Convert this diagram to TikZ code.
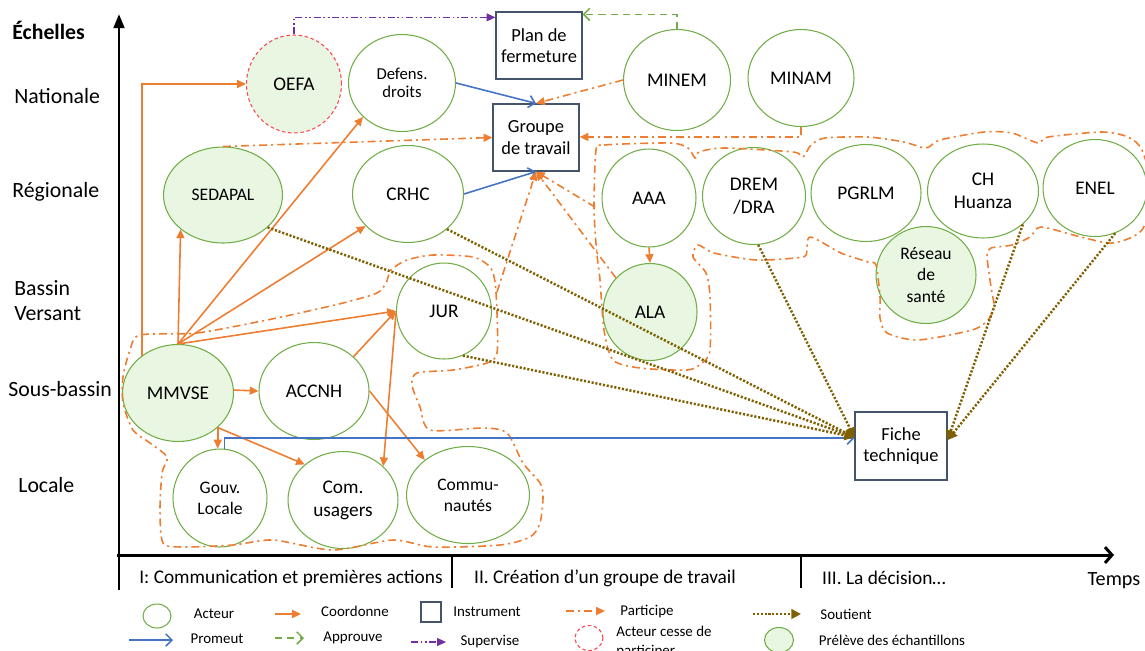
\documentclass[tikz,border=0pt]{standalone}
\usepackage{fontspec}
\setmainfont{Carlito}
\usetikzlibrary{shapes.geometric, arrows.meta}

\definecolor{vertActeur}{RGB}{112,173,71}
\definecolor{vertClair}{RGB}{233,246,226}
\definecolor{orangeC}{RGB}{237,125,49}
\definecolor{bleuP}{RGB}{68,114,196}
\definecolor{violetS}{RGB}{112,48,160}
\definecolor{oliveS}{RGB}{127,96,0}
\definecolor{rougeO}{RGB}{250,70,80}
\definecolor{ardoise}{RGB}{68,84,106}

\begin{document}
\begin{tikzpicture}[x=0.02cm, y=-0.02cm,
    acteur/.style={ellipse, draw=vertActeur, line width=0.6pt, inner sep=0pt, align=center,
        minimum width=2.2cm, minimum height=1.94cm, font=\fontsize{11}{13}\selectfont},
    preleve/.style={acteur, fill=vertClair},
    cesse/.style={draw=rougeO, dash pattern=on 2pt off 1.5pt},
    petit/.style={font=\fontsize{10}{12}\selectfont},
    instrument/.style={draw=ardoise, line width=0.7pt, inner sep=0pt, align=center,
        minimum width=1.72cm, minimum height=1.34cm, font=\fontsize{10.5}{12.3}\selectfont},
    echelle/.style={anchor=west, inner sep=0pt, align=left, font=\fontsize{12.4}{14.2}\selectfont},
    phase/.style={inner sep=0pt, font=\fontsize{11}{13}\selectfont},
    legende/.style={inner sep=0pt, align=left, font=\fontsize{8.5}{10.5}\selectfont},
    axe/.style={line width=1.7pt},
    coordonne/.style={draw=orangeC, line width=0.9pt, -{Triangle[length=5pt,width=4.5pt]}},
    promeut/.style={draw=bleuP, line width=0.9pt, -{Straight Barb[length=3.5pt,width=7pt]}},
    approuve/.style={draw=vertActeur, line width=0.9pt, dash pattern=on 4pt off 3pt,
        -{Straight Barb[length=3.5pt,width=7pt]}},
    supervise/.style={draw=violetS, line width=0.6pt,
        dash pattern=on 4pt off 1.5pt on 1pt off 1.5pt on 1pt off 1.5pt,
        -{Triangle[length=5pt,width=4.5pt]}},
    participe/.style={draw=orangeC, line width=0.9pt,
        dash pattern=on 4.5pt off 2.3pt on 1.2pt off 2.3pt, -{Triangle[length=5pt,width=4.5pt]}},
    nuage/.style={draw=orangeC, line width=0.9pt, dash pattern=on 4.5pt off 2.3pt on 1.2pt off 2.3pt},
    soutient/.style={draw=oliveS, line width=1.4pt, dash pattern=on 1.2pt off 1pt,
        -{Triangle[length=5.5pt,width=5.5pt]}}]
\useasboundingbox (0,0) rectangle (1145,650);

% axes et echelles
\draw[axe, -{Triangle[length=8pt,width=6pt]}] (119,590) -- (119,14);
\draw[axe, -{Straight Barb[length=4pt,width=9pt]}] (117,555) -- (1114,555);
\draw[line width=1.1pt] (452,555) -- (452,588);
\draw[line width=1.1pt] (801,555) -- (801,588);
\node[echelle, font=\bfseries\fontsize{12.4}{14.2}\selectfont] (ech) at (12,30) {Échelles};
\node[echelle] (nat) at (14,96) {Nationale};
\node[echelle] (reg) at (12,192) {Régionale};
\node[echelle] (bv) at (14,301) {Bassin\\Versant};
\node[echelle] (sb) at (8,389) {Sous-bassin};
\node[echelle] (loc) at (18,485) {Locale};
\node[phase] (ph1) at (291,578) {I: Communication et premières actions};
\node[phase] (ph2) at (605,578) {II. Création d’un groupe de travail};
\node[phase] (ph3) at (884,578) {III. La décision…};
\node[phase, font=\fontsize{11.5}{13}\selectfont] (temps) at (1114,581) {Temps};

% acteurs et instruments
\node[preleve, cesse, minimum width=1.9cm, minimum height=1.96cm] (oefa) at (294,84) {OEFA};
\node[acteur, minimum width=2.14cm, font=\fontsize{9.5}{10.5}\selectfont] (defens) at (402,83) {Defens.\\droits};
\node[instrument] (plan) at (539,45.5) {Plan de\\fermeture};
\node[instrument] (groupe) at (536,137.5) {Groupe\\de travail};
\node[acteur, minimum width=2.14cm, minimum height=2.02cm] (minem) at (677,80) {MINEM};
\node[acteur, minimum width=2.12cm] (minam) at (801,78) {MINAM};
\node[preleve, petit, minimum width=2.38cm, minimum height=1.92cm] (sedapal) at (223,195) {SEDAPAL};
\node[acteur, minimum width=2.22cm] (crhc) at (408,194) {CRHC};
\node[acteur, minimum width=1.88cm, minimum height=1.96cm] (aaa) at (649,198) {AAA};
\node[acteur, minimum width=2.06cm] (drem) at (754,196) {DREM\\/DRA};
\node[acteur] (pgrlm) at (866,193) {PGRLM};
\node[acteur, minimum width=2.22cm, minimum height=1.88cm] (huanza) at (983,191) {CH\\Huanza};
\node[acteur, minimum width=2.08cm] (enel) at (1095,188) {ENEL};
\node[preleve, petit, minimum width=2cm] (reseau) at (926,275) {Réseau\\de\\santé};
\node[acteur, minimum width=1.9cm, minimum height=1.92cm] (jur) at (444,311) {JUR};
\node[preleve, minimum width=1.88cm] (ala) at (650,312) {ALA};
\node[preleve, minimum width=2.22cm] (mmvse) at (178,393) {MMVSE};
\node[acteur] (accnh) at (314,391) {ACCNH};
\node[acteur, petit, minimum width=1.88cm, minimum height=1.96cm] (gouv) at (220,498) {Gouv.\\Locale};
\node[acteur] (usagers) at (343,500) {Com.\\usagers};
\node[acteur, petit, minimum width=2.46cm] (communautes) at (468,495) {Commu-\\nautés};
\node[instrument, minimum width=1.84cm, minimum height=1.36cm] (fiche) at (901,446) {Fiche\\technique};

% groupes d'acteurs
\draw[nuage] plot[smooth cycle, tension=0.45] coordinates {(140,335) (197,333) (267,320) (313,310)
    (347,302) (377,293) (386,283) (391,270) (407,260) (433,255) (473,257) (490,267) (495,282)
    (497,313) (497,353) (487,363) (453,370) (417,373) (412,385) (420,407) (430,430) (483,428)
    (507,433) (523,463) (540,483) (543,497) (540,523) (530,537) (500,545) (433,547) (393,540)
    (333,550) (273,540) (233,545) (183,547) (163,543) (160,510) (162,473) (167,457) (150,443)
    (133,430) (123,403) (123,377) (130,350)};
\draw[nuage] plot[smooth cycle, tension=0.45] coordinates {(596,150) (604,145) (670,143) (688,148)
    (695,158) (699,152) (724,148) (793,152) (803,157) (811,145) (825,138) (868,137) (904,142)
    (926,148) (940,140) (984,132) (1012,133) (1038,143) (1048,137) (1102,132) (1128,137)
    (1142,150) (1152,190) (1142,230) (1113,243) (1081,237) (1041,227) (1030,237) (1012,245)
    (991,248) (987,256) (991,287) (994,307) (988,320) (972,330) (918,340) (887,333) (880,318)
    (880,297) (876,265) (868,262) (841,253) (810,237) (806,255) (795,258) (756,260) (714,253)
    (698,245) (693,257) (706,273) (710,297) (710,350) (702,363) (687,370) (640,368) (613,360)
    (604,330) (600,280) (597,255) (595,230) (594,203)};
\coordinate (nuageA) at (497,292);
\coordinate (nuageB) at (595,207);

% coordonne
\draw[coordonne] (mmvse.134) |- (oefa.west);
\draw[coordonne] (mmvse.north) -- (sedapal.-141);
\draw[coordonne] (mmvse.north) -- (defens.-139);
\draw[coordonne] (mmvse.north) -- (crhc.-143);
\draw[coordonne] (mmvse.north) -- (jur.180);
\draw[coordonne] (mmvse.3) -- (accnh.west);
\draw[coordonne] (mmvse.-41) -- (mmvse.-41 |- gouv.north);
\draw[coordonne] (mmvse.-41) -- (usagers.137);
\draw[coordonne] (accnh.41) -- (jur.180);
\draw[coordonne] (jur.182) -- (usagers.40);
\draw[coordonne] (accnh.east) -- (communautes.141);
\draw[coordonne] (aaa.south) -- (ala.north);

% promeut
\draw[promeut] (defens.east) -- (groupe.north);
\draw[promeut] (crhc.east) -- (groupe.south);
\draw[promeut] (gouv.85) |- ([yshift=4.5pt]fiche.west);

% approuve, supervise
\draw[approuve] (minem.north) |- ([yshift=-1.7pt]plan.north east);
\draw[supervise] (oefa.north) |- ([yshift=-3.4pt]plan.north west);

% participe
\draw[participe] (sedapal.north) -- (groupe.west);
\draw[participe] (minem.west) -- (groupe.north);
\draw[participe] (minam.south) |- ([yshift=0.3pt]groupe.east);
\draw[participe] (nuageA) -- (groupe.south);
\draw[participe] (nuageB) -- (groupe.south);
\draw[participe] (ala.135) -- (groupe.south);

% soutient
\coordinate (ficheO) at ([yshift=5pt]fiche.west);
\coordinate (ficheE) at ([yshift=3.4pt]fiche.east);
\draw[soutient] (sedapal.-36) -- (ficheO);
\draw[soutient] (crhc.-42) -- (ficheO);
\draw[soutient] (jur.-67) -- (ficheO);
\draw[soutient] (drem.-85) -- (ficheO);
\draw[soutient] (huanza.-40) -- (ficheE);
\draw[soutient] (enel.-66) -- (ficheE);

% legende
\node[acteur, minimum width=0.56cm, minimum height=0.48cm] (lgActeur) at (157,616) {};
\node[legende] (txActeur) at (214,614) {Acteur};
\node[legende] (txCoord) at (355,611) {Coordonne};
\node[instrument, minimum width=0.4cm, minimum height=0.4cm] (lgInstr) at (431,612) {};
\node[legende] (txInstr) at (487,612) {Instrument};
\node[legende] (txPart) at (647,612) {Participe};
\node[legende] (txSout) at (846,614) {Soutient};
\node[legende] (txProm) at (217,639) {Promeut};
\node[legende] (txAppr) at (353,638) {Approuve};
\node[legende] (txSup) at (490,642) {Supervise};
\node[acteur, cesse, minimum width=0.56cm, minimum height=0.5cm] (lgCesse) at (589,638) {};
\node[legende, anchor=north west] (txCesse) at (616,626) {Acteur cesse de\\participer};
\node[preleve, minimum width=0.58cm, minimum height=0.5cm] (lgPreleve) at (779,640) {};
\node[legende] (txPreleve) at (892,640) {Prélève des échantillons};
\foreach \st/\xa/\xb/\yy in {coordonne/275/301/614, participe/566/605/611, soutient/753/801/614,
    promeut/129/173/640, approuve/275/304/638, supervise/411/446/642}{
  \coordinate (\st-a) at (\xa,\yy);
  \coordinate (\st-b) at (\xb,\yy);
  \draw[\st] (\st-a) -- (\st-b);
}
\end{tikzpicture}
\end{document}
